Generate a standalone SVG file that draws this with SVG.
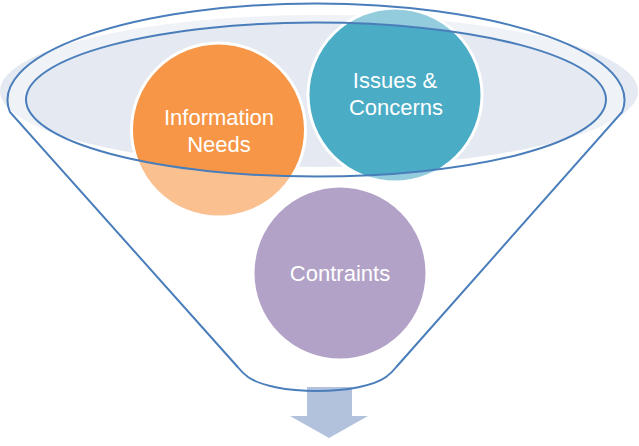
<svg xmlns="http://www.w3.org/2000/svg" width="639" height="446" viewBox="0 0 639 446">
<defs>
<style>
.node-circle{stroke:#ffffff;stroke-width:3}
.label{font-family:"Liberation Sans",Arial,sans-serif;font-size:22px;fill:#ffffff;text-anchor:middle}
.funnel-line{fill:none;stroke:#4a7ebb;stroke-width:2}
</style>
</defs>
<rect width="639" height="446" fill="#ffffff"/>
<ellipse id="rim-fill" cx="319" cy="91" rx="319" ry="76" fill="#e4e9f2"/>
<g id="node-information-needs">
<circle class="node-circle" cx="218.5" cy="130" r="87" fill="#f79646"/>
<text class="label" x="219" y="125">Information</text>
<text class="label" x="219" y="152">Needs</text>
</g>
<g id="node-issues-concerns">
<circle class="node-circle" cx="395" cy="95" r="87" fill="#4bacc6"/>
<text class="label" x="395" y="88">Issues &amp;</text>
<text class="label" x="396" y="115">Concerns</text>
</g>
<g id="node-contraints">
<circle class="node-circle" cx="340" cy="273" r="87" fill="#8064a2"/>
<text class="label" x="340" y="281">Contraints</text>
</g>
<path id="funnel-overlay" fill="#ffffff" fill-opacity="0.4" fill-rule="evenodd" d="M 9.9 112 A 308.5 96.5 0 1 1 622.1 112 L 396.3 367 Q 392 372.5 386 377 A 75 23 0 0 1 248 377 Q 242 372.5 237.7 367 Z M 26 99.6 A 290 77 0 1 0 606 99.6 A 290 77 0 1 0 26 99.6 Z"/>
<g id="connectors">
<polygon points="307,387 352,387 352,416 368,416 329,438 290,416 307,416" fill="#b2c2dd"/>
</g>
<g id="funnel">
<path class="funnel-line" d="M 9.9 112 A 308.5 96.5 0 1 1 622.1 112 L 396.3 367 Q 392 372.5 386 377 A 75 23 0 0 1 248 377 Q 242 372.5 237.7 367 Z"/>
<ellipse class="funnel-line" cx="316" cy="99.6" rx="290" ry="77"/>
</g>
</svg>
